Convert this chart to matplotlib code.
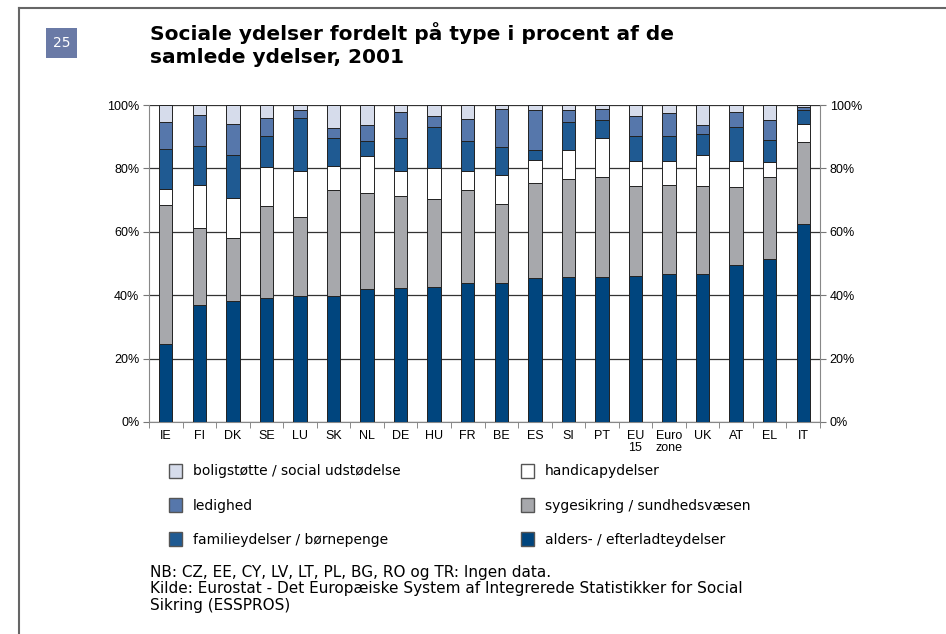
import numpy as np
import matplotlib
matplotlib.use('Agg')
import matplotlib.pyplot as plt
from matplotlib.patches import Rectangle, Patch
from matplotlib.ticker import FixedLocator, PercentFormatter

# Sociale ydelser fordelt paa type, 2001 (andele i procent)

countries = ['IE', 'FI', 'DK', 'SE', 'LU', 'SK', 'NL', 'DE', 'HU', 'FR', 'BE',
             'ES', 'SI', 'PT', 'EU\n15', 'Euro\nzone', 'UK', 'AT', 'EL', 'IT']

alders = [24.7, 36.8, 38.1, 39.2, 39.6, 39.6, 41.9, 42.4, 42.7, 43.8, 43.8,
          45.3, 45.6, 45.6, 46.1, 46.6, 46.6, 49.4, 51.4, 62.4]
syge = [43.7, 24.3, 20.1, 28.8, 25.0, 33.5, 30.2, 28.9, 27.5, 29.3, 25.1,
        30.1, 31.2, 31.8, 28.4, 28.3, 28.0, 24.6, 25.8, 26.0]
handicap = [5.0, 13.8, 12.5, 12.5, 14.5, 7.8, 11.7, 7.9, 10.0, 6.1, 8.9,
            7.4, 8.9, 12.1, 7.9, 7.5, 9.6, 8.4, 4.7, 5.5]
familie = [12.6, 12.2, 13.5, 9.8, 16.7, 8.6, 4.7, 10.3, 12.9, 9.3, 8.8,
           3.0, 8.8, 5.7, 7.9, 7.9, 6.6, 10.8, 7.0, 4.5]
ledighed = [8.5, 9.7, 9.8, 5.6, 2.5, 3.4, 5.2, 8.3, 3.3, 7.0, 12.1,
            12.6, 3.9, 3.5, 6.1, 7.1, 2.9, 4.6, 6.3, 1.1]
bolig = [5.5, 3.2, 6.0, 4.1, 1.7, 7.1, 6.3, 2.2, 3.6, 4.5, 1.3,
         1.6, 1.6, 1.3, 3.6, 2.6, 6.3, 2.2, 4.8, 0.5]

series = [
    ('alders- / efterladteydelser', alders, '#00457e'),
    ('sygesikring / sundhedsvæsen', syge, '#a7a8ac'),
    ('handicapydelser', handicap, '#ffffff'),
    ('familieydelser / børnepenge', familie, '#1f5a92'),
    ('ledighed', ledighed, '#5677ab'),
    ('boligstøtte / social udstødelse', bolig, '#d6dceb'),
]

W, H = 946, 634
fig = plt.figure(figsize=(W / 100, H / 100), dpi=100)

def fx(px):
    return px / W

def fy(py):
    return 1 - py / H

# page frame
fig.add_artist(plt.Line2D([fx(19), fx(19)], [fy(8), 0], color='#666666', lw=1.5))
fig.add_artist(plt.Line2D([fx(19), 1], [fy(8), fy(8)], color='#666666', lw=1.5))

# page number box
fig.add_artist(Rectangle((fx(46), fy(58)), fx(31), 30 / H, facecolor='#6a7aa6',
                         edgecolor='none'))
fig.text(fx(61.5), fy(43), '25', color='white', fontsize=10, ha='center',
         va='center', family='DejaVu Sans')

fig.text(fx(150), fy(22), 'Sociale ydelser fordelt på type i procent af de\nsamlede ydelser, 2001',
         fontsize=14.5, fontweight='bold', family='DejaVu Sans', va='top',
         linespacing=1.3)

ax = fig.add_axes([fx(149), 1 - 422 / H, 671 / W, 317 / H])
x = np.arange(len(countries))
bottom = np.zeros(len(countries))
for name, vals, col in series:
    ax.bar(x, vals, 0.4, bottom=bottom, color=col, edgecolor='#222222',
           linewidth=0.7, zorder=3)
    bottom += np.array(vals)

ax.set_xlim(-0.5, len(countries) - 0.5)
ax.set_ylim(0, 100)
ax.set_yticks(range(0, 101, 20))
ax.yaxis.set_major_formatter(PercentFormatter(decimals=0))
ax.yaxis.grid(True, color='#333333', lw=0.9, zorder=0)
ax.set_xticks(x)
ax.set_xticklabels(countries, family='Liberation Sans', fontsize=9,
                   linespacing=0.95)
ax.xaxis.set_minor_locator(FixedLocator(np.arange(-0.5, len(countries), 1)))
ax.tick_params(axis='x', which='major', length=0, pad=6)
ax.tick_params(axis='x', which='minor', length=4, color='#777777')
ax.tick_params(axis='y', length=4, color='#777777', labelsize=9,
               left=True, right=True, labelleft=True, labelright=True, pad=3)
for lab in ax.get_yticklabels():
    lab.set_family('Liberation Sans')
for s in ['left', 'right', 'bottom']:
    ax.spines[s].set_color('#888888')
ax.spines['top'].set_visible(False)

handles = [Patch(facecolor=c, edgecolor='#555555', label=n) for n, v, c in series]
order = [5, 4, 3, 2, 1, 0]
fig.legend([handles[i] for i in order], [series[i][0] for i in order],
           ncol=2, loc='upper left', bbox_to_anchor=(fx(156), fy(451)),
           frameon=False, prop={'family': 'DejaVu Sans', 'size': 10},
           handlelength=1.0, handleheight=1.2, labelspacing=1.4,
           columnspacing=8.65, handletextpad=0.75)

notes = ('NB: CZ, EE, CY, LV, LT, PL, BG, RO og TR: Ingen data.\n'
         'Kilde: Eurostat - Det Europæiske System af Integrerede Statistikker for Social\n'
         'Sikring (ESSPROS)')
fig.text(fx(150), fy(565), notes, fontsize=11, family='DejaVu Sans', va='top',
         linespacing=1.12)

fig.savefig('out.png', dpi=100)
